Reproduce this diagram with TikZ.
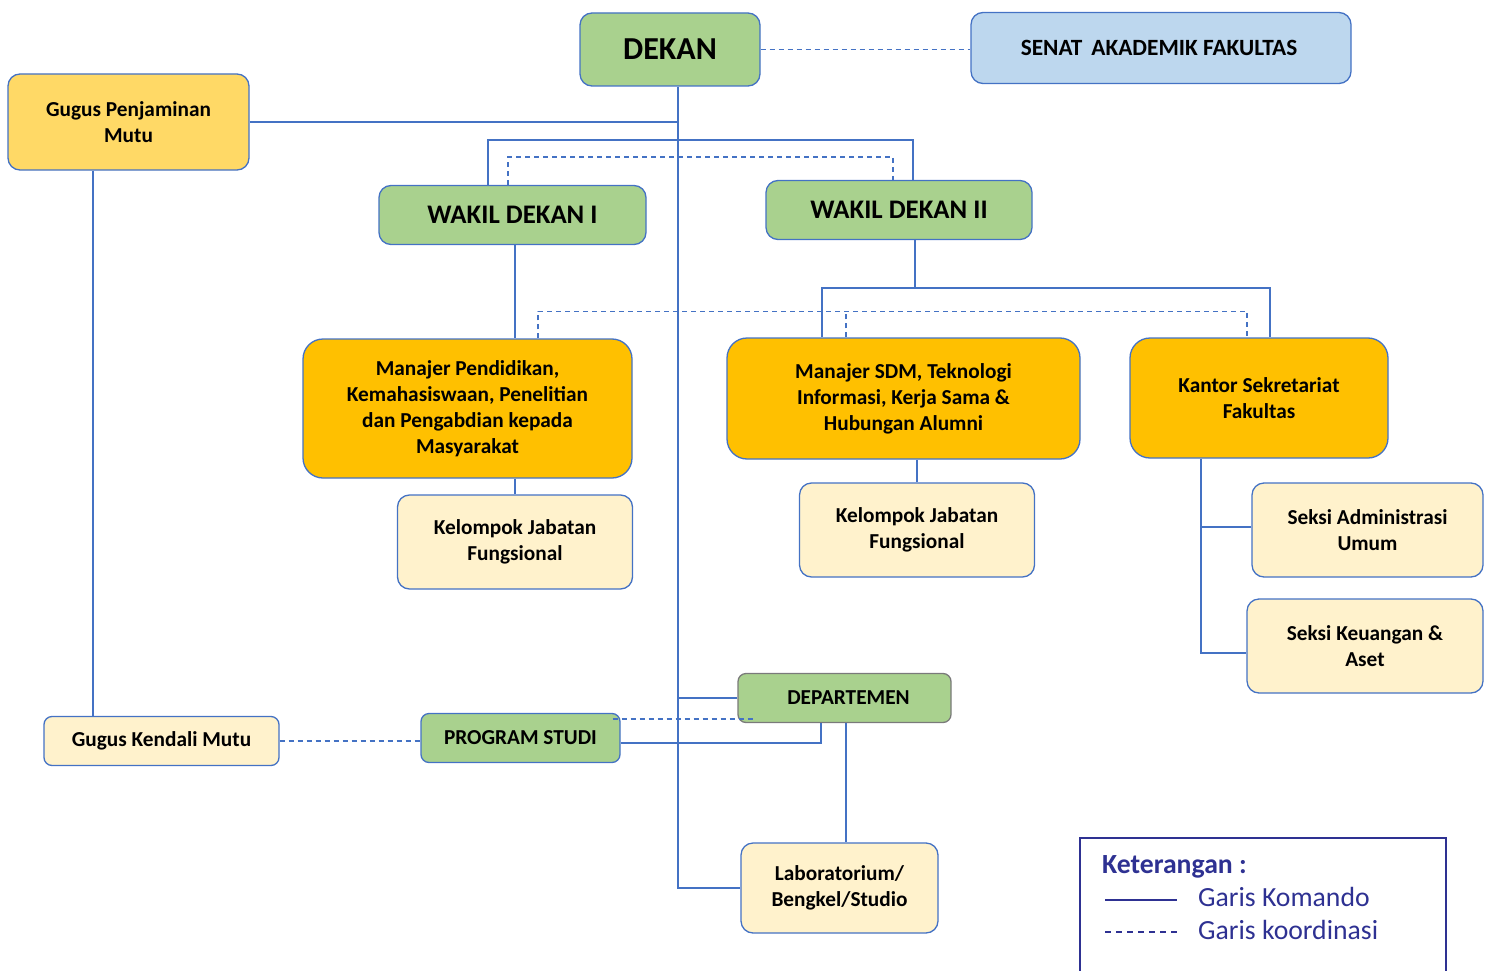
\documentclass[tikz,border=0pt]{standalone}
\usepackage{fontspec}
\setmainfont{Carlito}
\usetikzlibrary{calc}
\definecolor{cgreen}{HTML}{A9D18E}
\definecolor{cgold}{HTML}{FFD966}
\definecolor{corange}{HTML}{FFC000}
\definecolor{ccream}{HTML}{FFF2CC}
\definecolor{clblue}{HTML}{BDD7EE}
\definecolor{cline}{HTML}{4472C4}
\definecolor{cleg}{HTML}{2E3192}
\definecolor{cgray}{HTML}{7A7A7A}
\begin{document}
\begin{tikzpicture}[x=1pt,y=-1pt,
  box/.style={draw=cline, line width=1.3pt, rounded corners=12pt, align=center, inner sep=0pt,
     font=\fontsize{21.3}{26}\selectfont\bfseries},
  bigbox/.style={box, rounded corners=20pt},
  conn/.style={draw=cline, line width=1.7pt},
  coord/.style={draw=cline, line width=1.3pt, dash pattern=on 5pt off 4pt},
  legtext/.style={anchor=west, text=cleg, inner sep=0pt, font=\fontsize{27.7}{32}\selectfont},
]
\useasboundingbox (0,0) rectangle (1493,971);

% nodes
\node[box, fill=cgreen, minimum width=180pt, minimum height=73pt, font=\fontsize{32}{36}\selectfont\bfseries] (dekan) at (670,49.5) {DEKAN};
\node[box, fill=clblue, minimum width=380pt, minimum height=71pt, font=\fontsize{23.3}{26}\selectfont\bfseries] (senat) at (1161,48) {\hspace*{-4pt}SENAT\, AKADEMIK FAKULTAS};
\node[box, fill=cgold, minimum width=241pt, minimum height=96pt] (gpm) at (128.5,122) {Gugus Penjaminan\\Mutu};
\node[box, fill=cgreen, minimum width=267pt, minimum height=59pt, font=\fontsize{26.8}{30}\selectfont\bfseries] (wd1) at (512.5,215) {WAKIL DEKAN I};
\node[box, fill=cgreen, minimum width=266pt, minimum height=59pt, font=\fontsize{26.8}{30}\selectfont\bfseries] (wd2) at (899,210) {WAKIL DEKAN II};
\node[bigbox, fill=corange, minimum width=329pt, minimum height=139pt] (mp) at (467.5,408.5) {Manajer Pendidikan,\\Kemahasiswaan, Penelitian\\dan Pengabdian kepada\\Masyarakat};
\node[box, fill=ccream, minimum width=235pt, minimum height=94pt] (kjf1) at (515,542) {Kelompok Jabatan\\Fungsional};
\node[bigbox, fill=corange, minimum width=353pt, minimum height=121pt] (msdm) at (903.5,398.5) {Manajer SDM, Teknologi\\Informasi, Kerja Sama \&\\Hubungan Alumni};
\node[box, fill=ccream, minimum width=235pt, minimum height=94pt] (kjf2) at (917,530) {Kelompok Jabatan\\Fungsional};
\node[bigbox, fill=corange, minimum width=258pt, minimum height=120pt] (ksf) at (1259,398) {Kantor Sekretariat\\Fakultas};
\node[box, fill=ccream, minimum width=231pt, minimum height=94pt] (sau) at (1367.5,530) {Seksi Administrasi\\Umum};
\node[box, fill=ccream, minimum width=236pt, minimum height=94pt] (ska) at (1365,646) {Seksi Keuangan \&\\Aset};
\node[box, fill=ccream, minimum width=235pt, minimum height=49pt, rounded corners=8pt] (gkm) at (161.5,741) {Gugus Kendali Mutu};
\node[box, fill=cgreen, minimum width=199pt, minimum height=49pt, rounded corners=8pt] (ps) at (520.5,738) {PROGRAM STUDI};
\node[box, draw=cgray, fill=cgreen, minimum width=213pt, minimum height=49pt, rounded corners=8pt] (dep) at (844.5,698) {\hspace*{8pt}DEPARTEMEN};
\node[box, fill=ccream, minimum width=197pt, minimum height=90pt] (lab) at (839.5,888) {Laboratorium/\\Bengkel/Studio};

% connectors
\draw[coord] (dekan.east) -- (dekan.east -| senat.west);
\coordinate (dk) at ([xshift=8pt]dekan.south);
\draw[conn] (dk) |- (lab.west);
\draw[conn] (gpm.east) -- (gpm.east -| dk);
\draw[conn] ([xshift=-24.5pt]wd1.north) -- ++(0,-45) -| ([xshift=14pt]wd2.north);
\draw[coord] ([xshift=-4.5pt]wd1.north) -- ++(0,-28) -| ([xshift=-6pt]wd2.north);
\draw[conn] (wd1.south -| kjf1.north) -- (kjf1.north |- mp.north);
\draw[conn] (kjf1.north) -- (kjf1.north |- mp.south);
\draw[conn] ([xshift=16pt]wd2.south) -- ++(0,48) coordinate (j2);
\draw[conn] ([xshift=-81.5pt]msdm.north) |- (j2) -| ([xshift=11pt]ksf.north);
\draw[coord] ([xshift=70.5pt]mp.north) -- ++(0,-27) -| ([xshift=-12pt]ksf.north);
\draw[coord] ([xshift=-57.5pt]msdm.north) -- ++(0,-26);
\draw[conn] (kjf2.north) -- (kjf2.north |- msdm.south);
\coordinate (k) at ([xshift=-58pt]ksf.south);
\draw[conn] (k) |- ([yshift=-7pt]ska.west);
\draw[conn] ([yshift=3pt]sau.west) -- ([yshift=3pt]sau.west -| k);
\draw[conn] ([xshift=-35.5pt]gpm.south) coordinate (g) -- (g |- gkm.north);
\draw[coord] (gkm.east) -- (gkm.east -| ps.west);
\draw[conn] (dep.west) -- (dep.west -| dk);
\draw[coord] ([xshift=-8pt,yshift=-6pt]ps.north east) -- ++(140,0);
\draw[conn] ([yshift=-5pt]ps.east) -| ([xshift=-23.5pt]dep.south);
\draw[conn] ([xshift=1.5pt]dep.south) coordinate (d) -- (d |- lab.north);

% legend
\draw[draw=cleg, line width=2.2pt] (1080,980) -- (1080,838) -- (1446,838) -- (1446,980);
\node[legtext, font=\fontsize{27.7}{32}\selectfont\bfseries] (legt) at (1102,867) {Keterangan :};
\node[legtext] (legk) at (1198,897) {Garis Komando};
\node[legtext] (legc) at (1198,930) {Garis koordinasi};
\draw[draw=cleg, line width=1.6pt] (1105,900) -- (1177,900);
\draw[draw=cleg, line width=1.3pt, dash pattern=on 6pt off 5pt] (1105,932) -- (1177,932);
\end{tikzpicture}
\end{document}
